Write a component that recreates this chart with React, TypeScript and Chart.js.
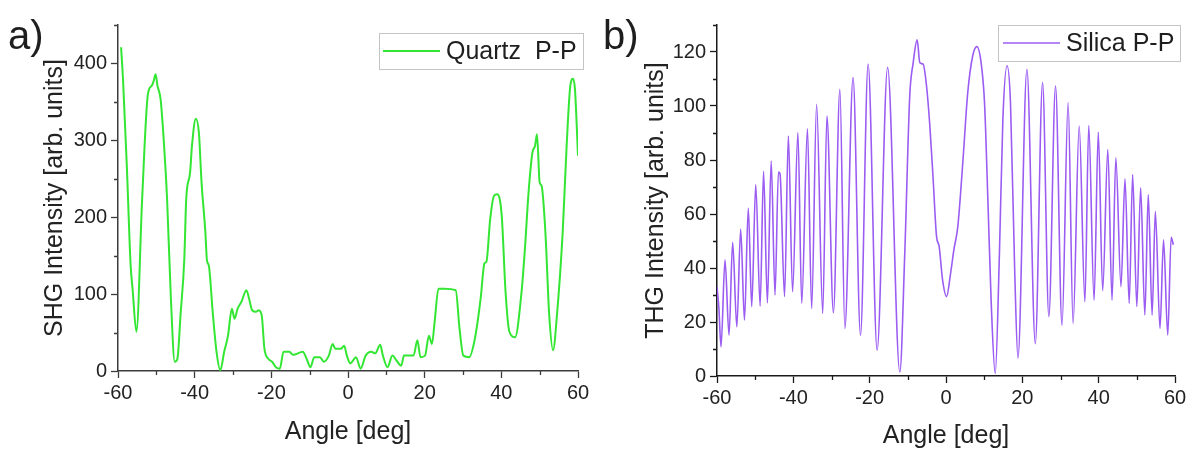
import React, { useEffect, useRef } from "react";
import { Chart, registerables } from "chart.js";
Chart.register(...registerables);

const quartzAngles = [
  -59.2, -58.7, -57.7, -56.7, -56.2, -55.2, -53.7, -52.2, -51.2, -50.7, -50.2, -49.7, -48.9, -48.2, -47.2, -46.2,
  -45.2, -44.5, -43.7, -42.7, -42.2, -41.2, -40.7, -39.7, -38.9, -38.2, -37.2, -36.8, -36.3, -35.3, -34.3, -33.3,
  -32.3, -31.3, -30.3, -29.6, -28.8, -27.8, -26.5, -25.8, -25.0, -24.0, -23.3, -22.5, -21.8, -20.8, -19.8, -18.8,
  -17.8, -16.8, -15.3, -14.3, -11.8, -10.8, -9.8, -8.8, -7.3, -6.3, -5.0, -4.0, -3.3, -1.8, -1.0, -0.3, 0.6, 2.1,
  3.3, 4.6, 6.1, 7.1, 8.4, 9.1, 10.3, 11.6, 12.6, 13.9, 14.6, 17.1, 18.1, 18.9, 20.1, 21.1, 21.9, 22.6, 23.6, 25.1,
  28.1, 29.1, 30.1, 31.6, 33.1, 34.6, 35.6, 36.1, 37.1, 38.1, 38.9, 40.1, 41.1, 42.1, 43.6, 45.1, 46.1, 47.1, 48.1,
  48.8, 49.3, 50.0, 50.5, 51.5, 52.5, 53.5, 54.5, 56.0, 57.0, 58.0, 58.7, 59.2, 60.0,
];
const quartzValues = [
  421, 380, 267, 137, 107, 51, 224, 360, 371, 377, 386, 371, 354, 310, 224, 94,
  12, 16, 72, 146, 224, 258, 293, 328, 310, 245, 180, 144, 137, 77, 25, 1,
  25, 46, 81, 68, 81, 90, 105, 94, 79, 77, 79, 72, 29, 16, 12, 5,
  3, 25, 25, 21, 25, 16, 5, 18, 18, 12, 20, 35, 29, 29, 33, 20, 10, 18,
  3, 20, 25, 23, 34, 20, 5, 20, 14, 7, 20, 20, 40, 18, 20, 46, 35, 64, 107, 107,
  105, 55, 20, 18, 42, 94, 140, 142, 198, 228, 230, 202, 103, 51, 44, 94, 155, 232, 284,
  293, 308, 245, 241, 180, 72, 27, 72, 180, 289, 371, 380, 367, 280,
];

const silicaAngles = [
  -60.0, -59.5, -58.95, -57.9, -56.85, -55.9, -54.8, -53.8, -52.8, -51.8, -50.9, -49.85, -48.7, -47.8, -46.8,
  -45.8, -44.8, -43.9, -43.5, -42.3, -41.3, -40.2, -38.8, -37.8, -36.3, -35.2, -33.9, -32.3, -31.2, -29.5,
  -27.8, -26.5, -24.35, -22.4, -20.4, -18.05, -15.3, -12.1, -10.8, -9.5, -8.6, -7.56, -6.85, -5.99, -5.1,
  -4.23, -3.36, -2.48, -1.8, -0.9, 0.15, 1.2, 2.06, 3.1, 4.4, 5.7, 7.0, 8.1, 9.2, 10.1, 11.0, 11.85, 12.9,
  14.0, 14.9, 16.0, 16.9, 18.0, 18.85, 21.2, 23.4, 25.3, 26.95, 28.7, 30.4, 32.0, 33.3, 34.9, 36.4, 37.4,
  38.8, 39.9, 41.05, 42.4, 43.5, 44.5, 45.85, 46.9, 48.0, 48.9, 50.0, 51.0, 52.1, 53.0, 54.0, 54.85, 56.07,
  57.0, 58.1, 59.0, 59.56,
];
const silicaValues = [
  33, 25, 10.8, 43, 15.1, 49.5, 18.2, 54.4, 20.7, 62.2, 25.7, 70.9, 25.9, 75.8, 27.1,
  79.6, 30, 75.5, 75, 29.4, 88.9, 31.2, 90.1, 26.9, 91.6, 25, 100.6, 23.2, 96.3, 23.4,
  106.2, 17.6, 110.5, 15.1, 115.5, 9.6, 114.3, 1.5, 45.5, 103.7, 116, 124.5, 116, 115.5, 107.4,
  92.6, 72.7, 51.7, 48, 35.6, 29.4, 38, 46.7, 55.4, 79, 105, 118.6, 122, 116, 101, 64, 27, 0.9,
  45.5, 95, 114.9, 101, 39, 6.6, 113.6, 12, 108.7, 22, 107.4, 18.8, 101.3, 19.5, 92.6, 27.5, 92.8,
  28.1, 90.3, 31.6, 83.9, 28.1, 80.8, 33.1, 73, 26.9, 74.6, 25.7, 69.7, 22.6, 67.2, 22.6, 61, 17.6,
  50.4, 15.1, 51.4, 48.6,
];

const xTicks = [-60, -40, -20, 0, 20, 40, 60];
const xMinorTicks = [-50, -30, -10, 10, 30, 50];
const quartzYTicks = [0, 100, 200, 300, 400];
const quartzYMinor = [50, 150, 250, 350, 450];
const silicaYTicks = [0, 20, 40, 60, 80, 100, 120];
const silicaYMinor = [10, 30, 50, 70, 90, 110, 130];

const FONT = "'Liberation Sans', Arial, sans-serif";

const minorTicksPlugin = {
  id: "minorTicks",
  afterDraw(chart: any, _args: any, opts: any) {
    const { ctx } = chart;
    const xs = chart.scales.x;
    const ys = chart.scales.y;
    ctx.save();
    ctx.strokeStyle = opts.color;
    ctx.lineWidth = opts.width;
    ctx.beginPath();
    for (const v of opts.xMinor) {
      const px = Math.round(xs.getPixelForValue(v)) + 0.5;
      ctx.moveTo(px, chart.chartArea.bottom);
      ctx.lineTo(px, chart.chartArea.bottom + opts.length);
    }
    for (const v of opts.yMinor) {
      const py = Math.round(ys.getPixelForValue(v)) + 0.5;
      ctx.moveTo(chart.chartArea.left, py);
      ctx.lineTo(chart.chartArea.left - opts.length, py);
    }
    ctx.stroke();
    ctx.restore();
  },
};

const insideLegendPlugin = {
  id: "insideLegend",
  afterDraw(chart: any, _args: any, opts: any) {
    const ds = chart.data.datasets[0];
    const { ctx } = chart;
    ctx.save();
    ctx.fillStyle = "#ffffff";
    ctx.fillRect(opts.left, opts.top, opts.width, opts.height);
    ctx.strokeStyle = "#c4c4c4";
    ctx.lineWidth = 1;
    ctx.strokeRect(opts.left + 0.5, opts.top + 0.5, opts.width, opts.height);
    const cy = opts.top + opts.height / 2;
    ctx.strokeStyle = ds.borderColor;
    ctx.lineWidth = ds.borderWidth;
    ctx.beginPath();
    ctx.moveTo(opts.left + opts.lineStart, cy);
    ctx.lineTo(opts.left + opts.lineEnd, cy);
    ctx.stroke();
    ctx.fillStyle = "#1e1e1e";
    ctx.font = `${opts.fontSize}px ${FONT}`;
    ctx.textBaseline = "middle";
    ctx.textAlign = "left";
    ctx.fillText(ds.label, opts.left + opts.textX, cy + 1);
    ctx.restore();
  },
};

function buildConfig(p: any) {
  const tickFont = { family: FONT, size: 20 };
  const titleFont = { family: FONT, size: 25, lineHeight: 1 };
  return {
    type: "line",
    data: {
      datasets: [
        {
          label: p.label,
          data: p.angles.map((a: number, i: number) => ({ x: a, y: p.values[i] })),
          borderColor: p.color,
          borderWidth: p.lineWidth,
          pointRadius: 0,
          fill: false,
          cubicInterpolationMode: "monotone",
        },
      ],
    },
    options: {
      animation: false,
      responsive: false,
      maintainAspectRatio: false,
      layout: { padding: { left: 0, right: p.padRight, top: 25, bottom: 0 } },
      plugins: {
        legend: { display: false },
        tooltip: { enabled: false },
        minorTicks: { color: p.axisColor, width: 1.3, length: 4, xMinor: xMinorTicks, yMinor: p.yMinor },
        insideLegend: p.legend,
      },
      scales: {
        x: {
          type: "linear",
          min: -60,
          max: 60,
          afterBuildTicks: (s: any) => {
            s.ticks = xTicks.map((v) => ({ value: v }));
          },
          afterFit: (s: any) => {
            s.height = p.xHeight;
          },
          ticks: { font: tickFont, color: "#222", padding: 3, maxRotation: 0, autoSkip: false },
          grid: { drawOnChartArea: false, drawTicks: true, tickLength: 7, tickColor: p.axisColor, tickWidth: 1.3 },
          border: { display: true, color: p.axisColor, width: 1.5 },
          title: { display: true, text: "Angle [deg]", font: titleFont, color: "#222", padding: { top: 0, bottom: p.xTitlePad } },
        },
        y: {
          type: "linear",
          min: 0,
          max: p.yMax,
          afterBuildTicks: (s: any) => {
            s.ticks = p.yTicks.map((v: number) => ({ value: v }));
          },
          afterFit: (s: any) => {
            s.width = p.yWidth;
          },
          ticks: { font: tickFont, color: "#222", padding: 4, autoSkip: false },
          grid: { drawOnChartArea: false, drawTicks: true, tickLength: 7, tickColor: p.axisColor, tickWidth: 1.3 },
          border: { display: true, color: p.axisColor, width: 1.5 },
          title: { display: true, text: p.yTitle, font: titleFont, color: "#222", padding: { top: p.yTitlePad, bottom: 0 } },
        },
      },
    },
    plugins: [minorTicksPlugin, insideLegendPlugin],
  };
}

function Panel(props: { cfg: any; left: number }) {
  const ref = useRef<HTMLCanvasElement | null>(null);
  useEffect(() => {
    if (!ref.current) return;
    const chart = new Chart(ref.current, buildConfig(props.cfg) as any);
    return () => chart.destroy();
  }, []);
  return (
    <canvas
      ref={ref}
      width={597}
      height={450}
      style={{ position: "absolute", left: props.left, top: 0, width: 597, height: 450 }}
    />
  );
}

const quartzCfg = {
  label: "Quartz  P-P",
  angles: quartzAngles,
  values: quartzValues,
  color: "#33e633",
  lineWidth: 2,
  axisColor: "#3c3c3c",
  yMax: 450,
  yTicks: quartzYTicks,
  yMinor: quartzYMinor,
  yTitle: "SHG Intensity [arb. units]",
  yWidth: 118,
  xHeight: 79,
  padRight: 19,
  xTitlePad: 5,
  yTitlePad: 43,
  legend: { left: 379, top: 33, width: 204, height: 36, lineStart: 4, lineEnd: 61, textX: 67, fontSize: 25 },
};

const silicaCfg = {
  label: "Silica P-P",
  angles: silicaAngles,
  values: silicaValues,
  color: "#9b5cf2",
  lineWidth: 1.6,
  axisColor: "#1a1a1a",
  yMax: 130,
  yTicks: silicaYTicks,
  yMinor: silicaYMinor,
  yTitle: "THG Intensity [arb. units]",
  yWidth: 120,
  xHeight: 74,
  padRight: 19,
  xTitlePad: 1,
  yTitlePad: 47,
  legend: { left: 401, top: 25, width: 182, height: 36, lineStart: 5, lineEnd: 62, textX: 68, fontSize: 25 },
};

export default function App() {
  const labelStyle: React.CSSProperties = {
    position: "absolute",
    top: 11,
    fontFamily: FONT,
    fontSize: 40,
    lineHeight: "48px",
    color: "#1e1e1e",
  };
  return (
    <div style={{ position: "fixed", left: 0, top: 0, width: 1194, height: 450, background: "#fff", overflow: "hidden" }}>
      <Panel cfg={quartzCfg} left={0} />
      <Panel cfg={silicaCfg} left={597} />
      <div style={{ ...labelStyle, left: 8 }}>a)</div>
      <div style={{ ...labelStyle, left: 603 }}>b)</div>
    </div>
  );
}
